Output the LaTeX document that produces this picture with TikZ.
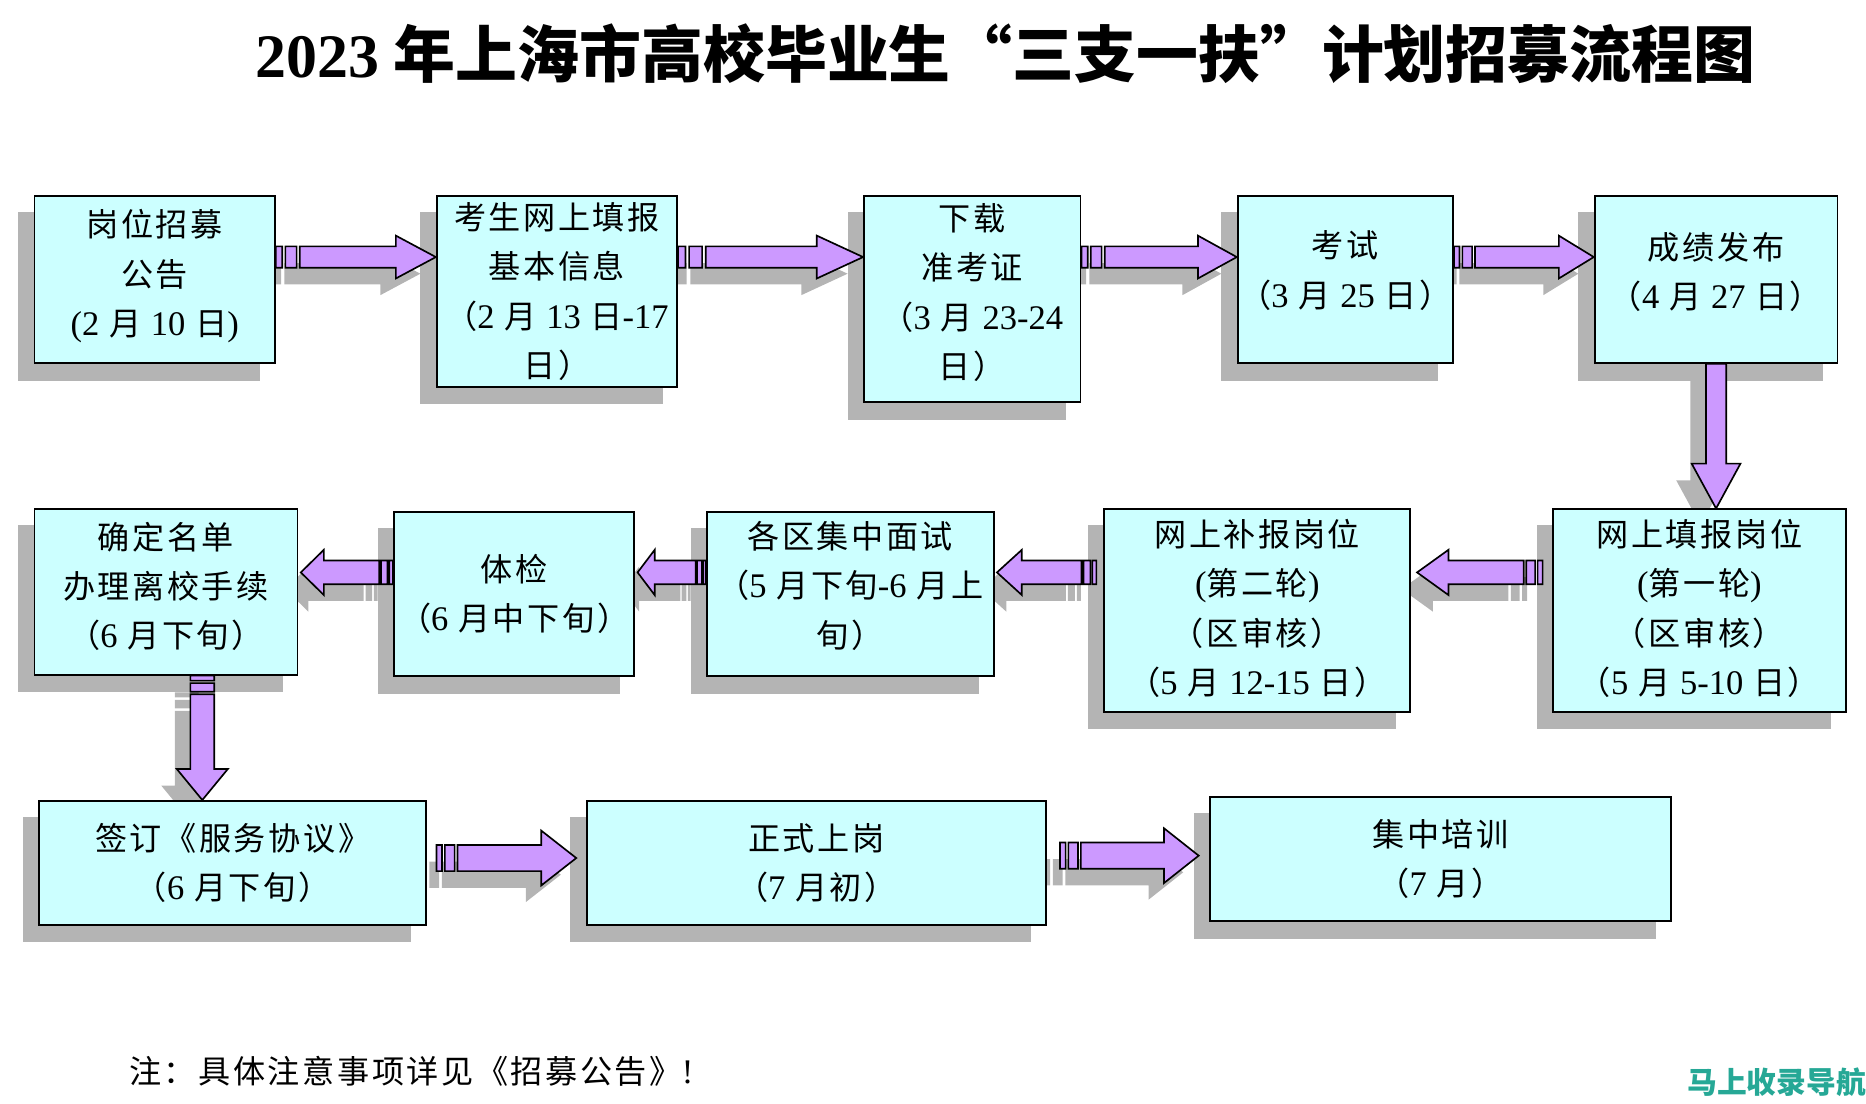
\documentclass[tikz,border=0pt]{standalone}
\usepackage{fontspec}
\setmainfont{Liberation Serif}
\newfontfamily\cjk[LetterSpace=8]{Noto Sans CJK SC}
\newfontfamily\cjkhei{Noto Sans CJK SC}
\usetikzlibrary{calc}

\definecolor{boxfill}{RGB}{204,255,255}
\definecolor{arrowfill}{RGB}{204,153,255}
\definecolor{shadowgray}{RGB}{180,180,180}
\definecolor{navteal}{RGB}{38,168,150}

\newcommand\boxfont{\cjk\fontsize{27}{41.5}\selectfont}
\newcommand\dg[1]{{\rmfamily\fontsize{29}{41.5}\selectfont #1}}

\pgfdeclarelayer{shadows}
\pgfdeclarelayer{arrows}
\pgfsetlayers{shadows,arrows,main}

\tikzset{
  stage/.style 2 args={draw=black, line width=1.5pt, fill=boxfill, inner sep=0pt,
    minimum width=#1pt, minimum height=#2pt, align=center, font=\boxfont},
  lift/.style={text depth=#1pt},
  arrowbody/.style={draw=black, line width=1.4pt, fill=arrowfill},
  arrowshade/.style={fill=shadowgray},
}

% direction and length from #1 to #2
\newcommand\arrowgeom[2]{%
  \path let \p1=(#1), \p2=(#2) in \pgfextra{%
    \pgfmathsetmacro\arrang{atan2(\y2-\y1,\x2-\x1)}\global\let\arrang\arrang
    \pgfmathsetmacro\arrlen{veclen(\x2-\x1,\y2-\y1)}\global\let\arrlen\arrlen}
    (#1) coordinate (arrfrom);}

% striped block arrow: from, to, half shaft, half head
\newcommand\stripearrow[4]{%
  \arrowgeom{#1}{#2}
  \foreach \sty/\dx/\dy in {arrowshade/-13pt/-14pt, arrowbody/0pt/0pt}
    \path[\sty, shift={(arrfrom)}, xshift=\dx, yshift=\dy, rotate=\arrang]
      (0,-#3) rectangle ({0.04*\arrlen},#3)
      ({0.06*\arrlen},-#3) rectangle ({0.13*\arrlen},#3)
      ({0.15*\arrlen},-#3) -- ({0.75*\arrlen},-#3) -- ({0.75*\arrlen},-#4) -- (\arrlen,0)
      -- ({0.75*\arrlen},#4) -- ({0.75*\arrlen},#3) -- ({0.15*\arrlen},#3) -- cycle;
}

% plain block arrow
\newcommand\plainarrow[4]{%
  \arrowgeom{#1}{#2}
  \foreach \sty/\dx/\dy in {arrowshade/-13pt/-14pt, arrowbody/0pt/0pt}
    \path[\sty, shift={(arrfrom)}, xshift=\dx, yshift=\dy, rotate=\arrang]
      (0,-#3) -- ({0.69*\arrlen},-#3) -- ({0.69*\arrlen},-#4) -- (\arrlen,0)
      -- ({0.69*\arrlen},#4) -- ({0.69*\arrlen},#3) -- (0,#3) -- cycle;
}

\begin{document}
\begin{tikzpicture}[x=1pt,y=-1pt]
  \useasboundingbox (0,0) rectangle (1568,927);

  \node[font=\cjkhei\bfseries\fontsize{52}{60}\selectfont] (title) at (845,45)
    {{\rmfamily\bfseries 2023} 年上海市高校毕业生“三支一扶”计划招募流程图};

  % row 1
  \node[stage={202}{140}, lift=12] (b1) at (130,235) {岗位招募\\公告\\\dg{(2} 月 \dg{10} 日\dg{)}};
  \node[stage={202}{160}] (b2) at (468,245) {考生网上填报\\基本信息\\（\dg{2} 月 \dg{13} 日\dg{-17}\\日）};
  \node[stage={182}{173}, lift=14] (b3) at (817,251.5) {下载\\准考证\\（\dg{3} 月 \dg{23-24}\\日）};
  \node[stage={181}{140}, lift=18] (b4) at (1130.5,235) {考试\\（\dg{3} 月 \dg{25} 日）};
  \node[stage={204}{140}, lift=16] (b5) at (1442,235) {成绩发布\\（\dg{4} 月 \dg{27} 日）};

  % row 2
  \node[stage={246}{170}, lift=6] (b6) at (1428,513) {网上填报岗位\\\dg{(}第一轮\dg{)}\\（区审核）\\（\dg{5} 月 \dg{5-10} 日）};
  \node[stage={257}{170}, lift=6] (b7) at (1056.5,513) {网上补报岗位\\\dg{(}第二轮\dg{)}\\（区审核）\\（\dg{5} 月 \dg{12-15} 日）};
  \node[stage={241}{138}, lift=16] (b8) at (714.5,499) {各区集中面试\\（\dg{5} 月下旬\dg{-6} 月上\\旬）};
  \node[stage={202}{138}] (b9) at (432,499) {体检\\（\dg{6} 月中下旬）};
  \node[stage={221}{139}, lift=12] (b10) at (139.5,497.5) {确定名单\\办理离校手续\\（\dg{6} 月下旬）};

  % row 3
  \node[stage={325}{104}] (b11) at (195.5,725) {签订《服务协议》\\（\dg{6} 月下旬）};
  \node[stage={386}{104}] (b12) at (686,725) {正式上岗\\（\dg{7} 月初）};
  \node[stage={387}{104}] (b13) at (1210.5,722) {集中培训\\（\dg{7} 月）};

  \node[anchor=west, font=\boxfont] (note) at (105,900) {注：具体注意事项详见《招募公告》\dg{!}};
  \node[anchor=east, inner sep=0pt, text=navteal,
        font=\cjkhei\bfseries\fontsize{25}{28}\selectfont] (nav) at (1568,909) {马上收录导航};

  \begin{pgfonlayer}{shadows}
    \foreach \i in {1,...,13}
      \fill[shadowgray] ([xshift=-13pt,yshift=-14pt]b\i.south west) rectangle ([xshift=-13pt,yshift=-14pt]b\i.north east);
  \end{pgfonlayer}

  \begin{pgfonlayer}{arrows}
    \stripearrow{b1.east |- 0,216}{b2.west |- 0,216}{9}{18}
    \stripearrow{b2.east |- 0,216}{b3.west |- 0,216}{9}{18}
    \stripearrow{b3.east |- 0,216}{b4.west |- 0,216}{9}{18}
    \stripearrow{b4.east |- 0,216}{b5.west |- 0,216}{9}{18}
    \plainarrow{b5.south}{b5.south |- b6.north}{8.5}{20.5}
    \stripearrow{$(b6.west |- 0,481)+(-8,0)$}{$(b7.east |- 0,481)+(5,0)$}{10}{19}
    \stripearrow{$(b7.west |- 0,481)+(-6,0)$}{$(b8.east |- 0,481)+(2,0)$}{10}{19}
    \stripearrow{b8.west |- 0,481}{$(b9.east |- 0,481)+(2,0)$}{10}{19}
    \stripearrow{b9.west |- 0,481}{$(b10.east |- 0,481)+(2,0)$}{10}{19}
    \stripearrow{170,0 |- b10.south}{170,0 |- b11.north}{10}{21.5}
    \stripearrow{$(b11.east |- 0,721)+(8,0)$}{$(b12.west |- 0,721)+(-8,0)$}{11}{23}
    \stripearrow{$(b12.east |- 0,719)+(11,0)$}{$(b13.west |- 0,719)+(-9,0)$}{11}{23}
  \end{pgfonlayer}
\end{tikzpicture}
\end{document}
